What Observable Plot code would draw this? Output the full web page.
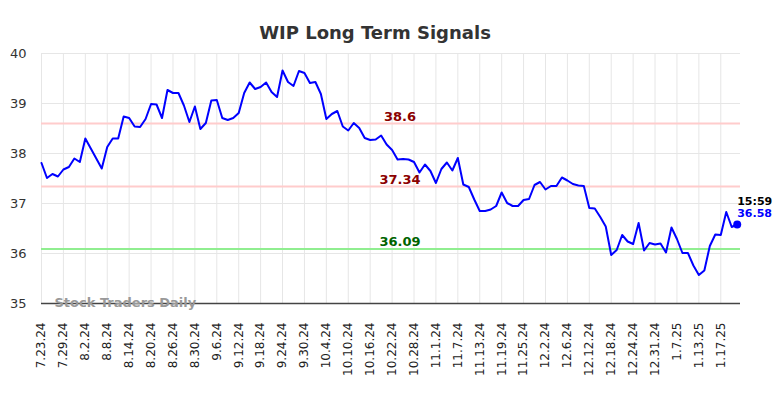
<!DOCTYPE html>
<html>
<head>
<meta charset="utf-8">
<script src="https://cdn.jsdelivr.net/npm/d3@7"></script>
<script src="https://cdn.jsdelivr.net/npm/@observablehq/plot@0.6"></script>
<style>
  html, body { margin: 0; padding: 0; background: #fff; }
  #chart { width: 784px; height: 398px; }
</style>
</head>
<body>
<div id="chart"></div>
<script>
const titleText = "WIP Long Term Signals";
const watermark = "Stock Traders Daily";

const tickLabels = ["7.23.24","7.29.24","8.2.24","8.8.24","8.14.24","8.20.24","8.26.24","8.30.24",
  "9.6.24","9.12.24","9.18.24","9.24.24","9.30.24","10.4.24","10.10.24","10.16.24","10.22.24",
  "10.28.24","11.1.24","11.7.24","11.13.24","11.19.24","11.25.24","12.2.24","12.6.24","12.12.24",
  "12.18.24","12.24.24","12.31.24","1.7.25","1.13.25","1.17.25"];

const prices = [
  37.81,37.51,37.59,37.54,37.68,37.73,37.90,37.83,38.30,38.10,
  37.90,37.70,38.13,38.30,38.30,38.74,38.71,38.54,38.53,38.69,
  38.99,38.98,38.71,39.27,39.21,39.21,38.96,38.63,38.94,38.49,
  38.61,39.06,39.07,38.71,38.67,38.71,38.81,39.21,39.42,39.29,
  39.33,39.42,39.23,39.13,39.66,39.43,39.35,39.65,39.61,39.41,
  39.43,39.19,38.69,38.79,38.85,38.54,38.46,38.61,38.51,38.31,
  38.27,38.28,38.36,38.18,38.07,37.88,37.89,37.88,37.83,37.62,
  37.78,37.65,37.41,37.69,37.82,37.66,37.91,37.38,37.33,37.08,
  36.85,36.85,36.88,36.95,37.22,37.01,36.95,36.95,37.07,37.09,
  37.37,37.43,37.28,37.35,37.35,37.52,37.46,37.39,37.36,37.35,
  36.91,36.90,36.73,36.54,35.97,36.07,36.37,36.24,36.19,36.61,
  36.06,36.21,36.18,36.20,36.02,36.52,36.29,36.01,36.01,35.76,
  35.57,35.66,36.15,36.38,36.37,36.83,36.53,36.58
];

const levelValues = [38.6, 37.34, 36.09];
const levelLabels = ["38.6", "37.34", "36.09"];
const levelLineColors = ["#ffcccc", "#ffcccc", "#90ee90"];
const levelTextColors = ["#8b0000", "#8b0000", "#006400"];

const yTicks = [35, 36, 37, 38, 39, 40];
const lastTime = "15:59";

const series = prices.map((v, i) => ({i, v}));
const tickIdx = tickLabels.map((_, k) => k * 4);
const levels = levelValues.map((v, k) => ({v, label: levelLabels[k], line: levelLineColors[k], text: levelTextColors[k]}));
const last = series[series.length - 1];

const chart = Plot.plot({
  width: 784,
  height: 398,
  marginLeft: 41,
  marginRight: 44,
  marginTop: 53,
  marginBottom: 95,
  style: {fontFamily: "DejaVu Sans", background: "#fff"},
  x: {type: "linear", domain: [0, 127.6]},
  y: {domain: [35, 40]},
  marks: [
    Plot.gridX(tickIdx, {stroke: "#e6e6e6", strokeOpacity: 1, strokeWidth: 1}),
    Plot.gridY(yTicks, {stroke: "#e6e6e6", strokeOpacity: 1, strokeWidth: 1}),
    Plot.ruleY(levels, {y: "v", stroke: "line", strokeWidth: 2}),
    Plot.ruleY([35], {stroke: "#444", strokeWidth: 1.5}),
    Plot.axisY(yTicks, {tickSize: 0, tickPadding: 15, fontSize: 13, fill: "#333", label: null,
      tickFormat: d => String(d)}),
    Plot.axisX(tickIdx, {tickSize: 0, tickPadding: 19, tickRotate: -90, fontSize: 12, fill: "#222",
      tickFormat: d => tickLabels[d / 4], label: null}),
    Plot.line(series, {x: "i", y: "v", stroke: "#0000ff", strokeWidth: 2}),
    Plot.text(levels, {y: "v", text: "label", frameAnchor: "middle", dx: 9, dy: -7,
      fill: "text", fontSize: 13, fontWeight: "bold"}),
    Plot.text([titleText], {frameAnchor: "top", dx: -16, dy: -27, fontSize: 18, fontWeight: "bold", fill: "#333"}),
    Plot.text([watermark], {frameAnchor: "bottom-left", dx: 13, dy: -1, textAnchor: "start",
      lineAnchor: "middle", fontSize: 13, fontWeight: "bold", fill: "#999"}),
    Plot.dot([last], {x: "i", y: "v", r: 4, fill: "#0000ff"}),
    Plot.text([last], {x: "i", y: "v", text: () => lastTime, dy: -23, textAnchor: "start",
      fontSize: 11, fontWeight: "bold", fill: "#000"}),
    Plot.text([last], {x: "i", y: "v", text: d => d.v.toFixed(2), dy: -11, textAnchor: "start",
      fontSize: 11, fontWeight: "bold", fill: "#0000ff"})
  ]
});
document.getElementById("chart").append(chart);
</script>
</body>
</html>
